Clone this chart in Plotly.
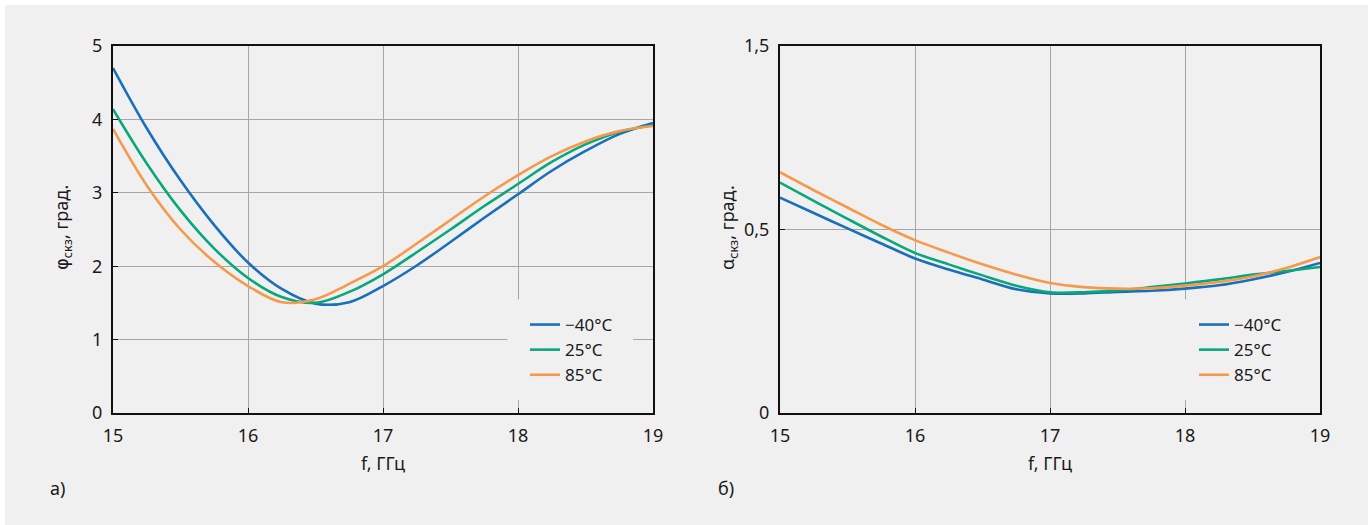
import plotly.graph_objects as go

# Frequency grid, GHz
freq = [15.0, 15.25, 15.5, 15.75, 16.0, 16.25, 16.5, 16.75, 17.0,
        17.25, 17.5, 17.75, 18.0, 18.25, 18.5, 18.75, 19.0]

# Panel (a): RMS phase error, degrees
phi_m40 = [4.70, 3.88, 3.17, 2.56, 2.05, 1.69, 1.49, 1.51, 1.73,
           2.01, 2.33, 2.66, 2.98, 3.30, 3.57, 3.80, 3.95]
phi_p25 = [4.14, 3.40, 2.76, 2.24, 1.84, 1.58, 1.50, 1.65, 1.89,
           2.19, 2.50, 2.82, 3.12, 3.42, 3.66, 3.83, 3.92]
phi_p85 = [3.87, 3.10, 2.50, 2.06, 1.73, 1.51, 1.55, 1.76, 2.00,
           2.31, 2.63, 2.95, 3.24, 3.50, 3.70, 3.84, 3.91]

# Panel (b): RMS amplitude error
amp_m40 = [0.587, 0.545, 0.503, 0.462, 0.421, 0.391, 0.364, 0.337, 0.326,
           0.326, 0.330, 0.333, 0.339, 0.348, 0.364, 0.384, 0.409]
amp_p25 = [0.628, 0.578, 0.529, 0.481, 0.436, 0.405, 0.375, 0.347, 0.329,
           0.329, 0.334, 0.343, 0.353, 0.364, 0.377, 0.387, 0.398]
amp_p85 = [0.656, 0.607, 0.560, 0.513, 0.471, 0.437, 0.405, 0.377, 0.354,
           0.343, 0.339, 0.340, 0.347, 0.357, 0.372, 0.395, 0.425]

series_names = ["\u221240\u00b0C", "25\u00b0C", "85\u00b0C"]
series_colors = ["#1a6fb9", "#0aa67c", "#f5994c"]

x_ticks = [15, 16, 17, 18, 19]
phi_ticks = [0, 1, 2, 3, 4, 5]
amp_ticks = [0, 0.5, 1]
amp_ticktext = ["0", "0,5", "1,5"]

W, H = 1368, 525
BG = "#f0f0f0"
FONT = "Noto Sans"
TXT = "#1a1a1a"


def px_x(p):
    return p / W


def px_y(p):
    return 1 - p / H


fig = go.Figure()

for vals, name, col in zip([phi_m40, phi_p25, phi_p85], series_names, series_colors):
    fig.add_trace(go.Scatter(x=freq, y=vals, name=name, mode="lines",
                             line=dict(color=col, width=2.6, shape="spline", smoothing=1.0),
                             xaxis="x", yaxis="y", legend="legend"))
for vals, name, col in zip([amp_m40, amp_p25, amp_p85], series_names, series_colors):
    fig.add_trace(go.Scatter(x=freq, y=vals, name=name, mode="lines",
                             line=dict(color=col, width=2.6, shape="spline", smoothing=0.9),
                             xaxis="x2", yaxis="y2", legend="legend2"))

axis_common = dict(
    showline=True, linecolor="#111111", linewidth=2, mirror=True,
    showgrid=True, gridcolor="#a6a6a6", gridwidth=1,
    zeroline=False, ticks="inside", ticklen=5, tickcolor="#111111",
    tickfont=dict(family=FONT, size=18, color=TXT),
    automargin=False, ticklabelstandoff=5,
)

ydom = [px_y(413), px_y(46)]
legend_style = dict(xanchor="left", yanchor="top", bgcolor="rgba(0,0,0,0)",
                    borderwidth=0, font=dict(family=FONT, size=17, color=TXT))

# Patches behind each legend that hide the grid lines there
legend_patches = []
for xr, yr in (("x domain", "y domain"), ("x2 domain", "y2 domain")):
    legend_patches.append(dict(type="rect", xref=xr, yref=yr, layer="above",
                               x0=0.73, x1=0.963, y0=0.035, y1=0.31,
                               fillcolor=BG, line=dict(width=0)))

fig.update_layout(
    width=W, height=H,
    margin=dict(l=0, r=0, t=0, b=0),
    paper_bgcolor="white", plot_bgcolor=BG,
    font=dict(family=FONT, size=17, color=TXT),
    showlegend=True,
    xaxis=dict(domain=[px_x(113), px_x(653)], range=[15, 19], tickvals=x_ticks,
               anchor="y", **axis_common),
    yaxis=dict(domain=ydom, range=[0, 5], tickvals=phi_ticks, anchor="x", **axis_common),
    xaxis2=dict(domain=[px_x(780), px_x(1320)], range=[15, 19], tickvals=x_ticks,
                anchor="y2", **axis_common),
    yaxis2=dict(domain=ydom, range=[0, 1], tickvals=amp_ticks, ticktext=amp_ticktext,
                anchor="x2", **axis_common),
    legend=dict(x=px_x(525), y=px_y(307), **legend_style),
    legend2=dict(x=px_x(1194), y=px_y(307), **legend_style),
    shapes=[dict(type="rect", xref="paper", yref="paper", layer="below",
                 x0=px_x(5), x1=1, y0=0, y1=px_y(5),
                 fillcolor=BG, line=dict(width=0))] + legend_patches,
)

titles = [
    dict(text="f, ГГц", x=px_x(383), y=px_y(463), textangle=0),
    dict(text="f, ГГц", x=px_x(1050), y=px_y(463), textangle=0),
    dict(text="<span style=\"font-family:'DejaVu Sans'\">φ</span><sub>скз</sub>, град.",
         x=px_x(62), y=px_y(228), textangle=-90),
    dict(text="α<sub>скз</sub>, град.", x=px_x(728), y=px_y(228), textangle=-90),
    dict(text="а)", x=px_x(57), y=px_y(488), textangle=0),
    dict(text="б)", x=px_x(726), y=px_y(488), textangle=0),
]
for t in titles:
    fig.add_annotation(text=t["text"], x=t["x"], y=t["y"], xref="paper", yref="paper",
                       xanchor="center", yanchor="middle", textangle=t["textangle"],
                       showarrow=False, font=dict(family=FONT, size=18, color=TXT))

fig.write_html("out.html")
